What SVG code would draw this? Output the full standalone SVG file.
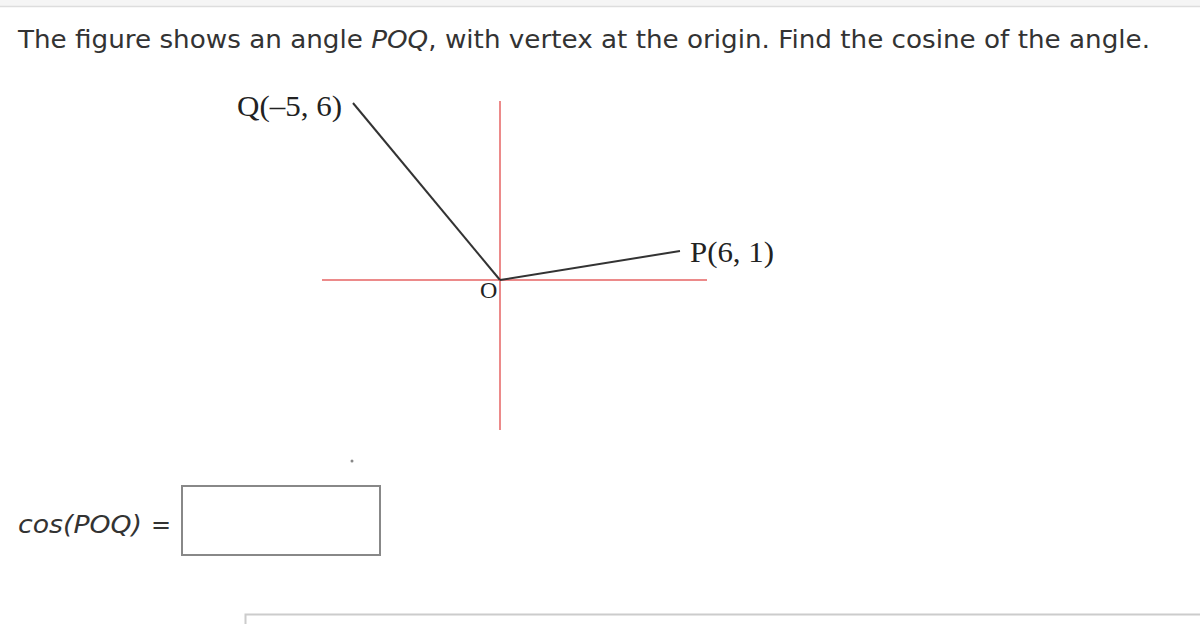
<svg xmlns="http://www.w3.org/2000/svg" width="1200" height="624" viewBox="0 0 1200 624">
<style>
.sans{font-family:"DejaVu Sans","Verdana",sans-serif;fill:#333;font-size:24px}
.serif{font-family:"Liberation Serif","Times New Roman",serif;fill:#222}
.axis{stroke:#ec8a8a;stroke-width:2;fill:none}
.ray{stroke:#333;stroke-width:2;fill:none}
</style>
<rect x="0" y="0" width="1200" height="624" fill="#fff"/>
<rect x="0" y="0" width="1200" height="6" fill="#f5f5f5"/>
<line x1="0" y1="6.5" x2="1200" y2="6.5" stroke="#dddddd" stroke-width="1.5"/>
<text id="question" class="sans" x="18" y="48" textLength="1132" lengthAdjust="spacingAndGlyphs">The figure shows an angle <tspan font-style="italic">POQ</tspan>, with vertex at the origin. Find the cosine of the angle.</text>
<g id="axes">
<line class="axis" x1="500" y1="101" x2="500" y2="430"/>
<line class="axis" x1="322" y1="280" x2="707" y2="280"/>
</g>
<g id="connectors">
<line class="ray" x1="500" y1="280" x2="353" y2="103"/>
<line class="ray" x1="500" y1="280" x2="680" y2="251"/>
</g>
<g id="Q"><text class="serif" x="237" y="116" font-size="30" textLength="105" lengthAdjust="spacingAndGlyphs">Q(–5, 6)</text></g>
<g id="P"><text class="serif" x="690" y="262" font-size="30" textLength="84" lengthAdjust="spacingAndGlyphs">P(6, 1)</text></g>
<g id="O"><text class="serif" x="480" y="298" font-size="24">O</text></g>
<circle cx="352" cy="461" r="1.5" fill="#888"/>
<g id="answer">
<text class="sans" x="18" y="533" font-style="italic" textLength="124" lengthAdjust="spacingAndGlyphs">cos(POQ)</text>
<text class="sans" x="151" y="533">=</text>
<rect x="182" y="486" width="198" height="69" fill="#fff" stroke="#888" stroke-width="2"/>
</g>
<path d="M245.5 624 V614.5 H1200" fill="none" stroke="#cccccc" stroke-width="2"/>
</svg>
